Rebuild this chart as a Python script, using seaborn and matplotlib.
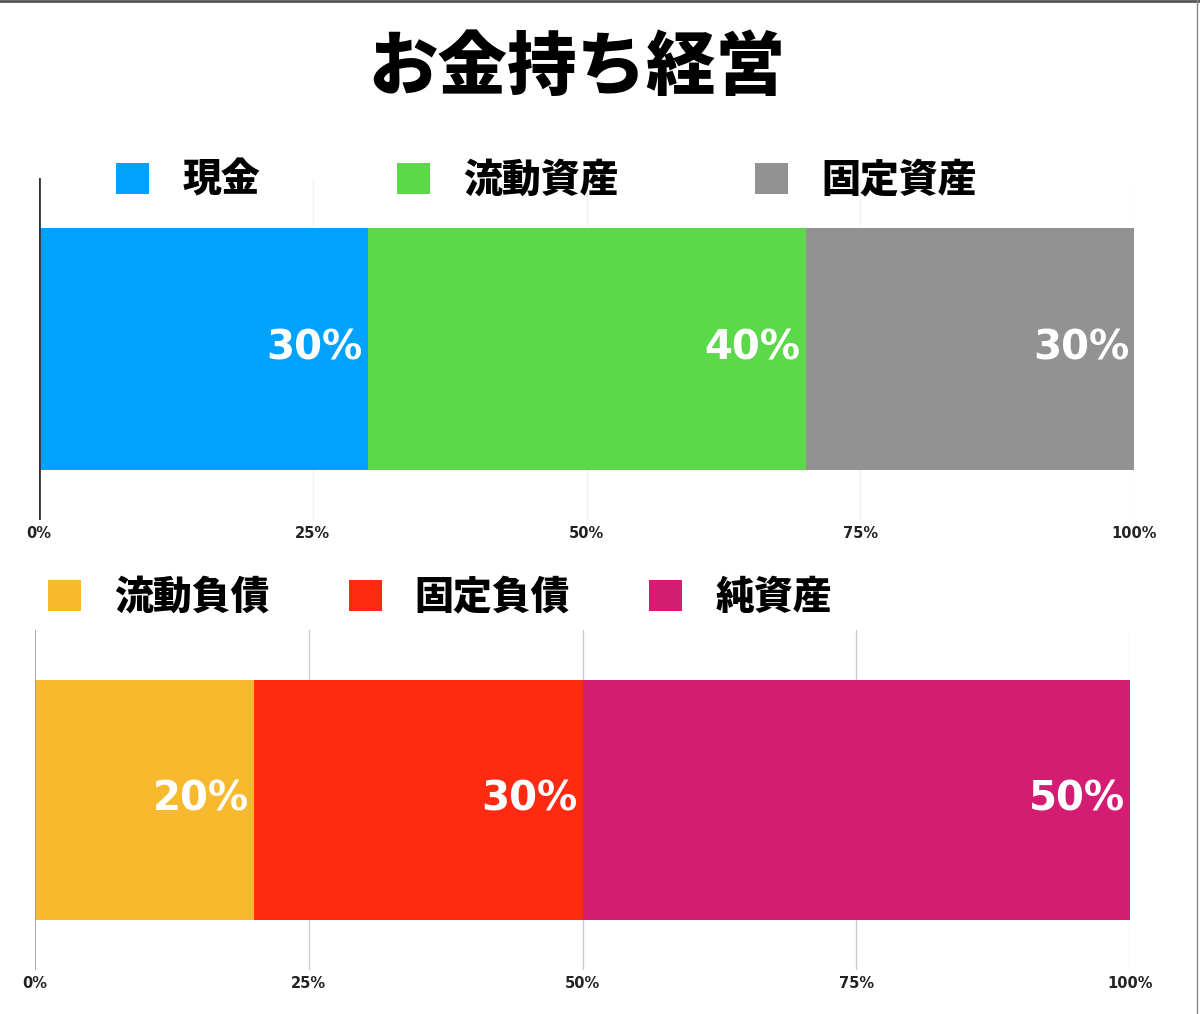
import numpy as np
import pandas as pd
import matplotlib
matplotlib.use("Agg")
import matplotlib.pyplot as plt
from matplotlib.patches import Patch
from matplotlib.lines import Line2D
import seaborn as sns

# data
title = "お金持ち経営"
asset_labels = ["現金", "流動資産", "固定資産"]
asset_values = [30, 40, 30]
asset_colors = ["#00A2FF", "#5CD94B", "#929292"]

liab_labels = ["流動負債", "固定負債", "純資産"]
liab_values = [20, 30, 50]
liab_colors = ["#F9B92E", "#FF2A12", "#D41C73"]

tick_values = [0, 25, 50, 75, 100]
tick_labels = ["0%", "25%", "50%", "75%", "100%"]

sns.set_theme(style="white")
plt.rcParams["font.family"] = ["Noto Sans CJK JP", "DejaVu Sans"]

fig = plt.figure(figsize=(12, 10.14), dpi=100)
fig.patch.set_facecolor("white")


def stacked_bar(ax, labels, values, colors, grid_color, zero_color, zero_lw):
    cum = np.cumsum(values)
    df = pd.DataFrame({"label": labels, "cum": cum, "row": [""] * len(labels)})
    # draw longest first so shorter segments sit on top
    for i in reversed(range(len(labels))):
        sns.barplot(data=df.iloc[[i]], x="cum", y="row", color=colors[i],
                    orient="h", width=0.705, linewidth=0, saturation=1,
                    ax=ax, zorder=3)
    for i, c in enumerate(cum):
        ax.text(c - 0.45, 0, f"{values[i]}%", ha="right", va="center",
                color="white", fontsize=29, fontweight="bold",
                family="DejaVu Sans", zorder=5)
    ax.set_xlim(0, 100)
    ax.set_ylim(0.5, -0.5)
    ax.set_xticks(tick_values)
    ax.set_xticklabels(tick_labels, fontsize=10.5, fontweight="bold",
                       family="DejaVu Sans", color="#222222")
    ax.tick_params(axis="x", length=0, pad=4)
    ax.set_yticks([])
    ax.set_xlabel("")
    ax.set_ylabel("")
    for s in ax.spines.values():
        s.set_visible(False)
    for t in tick_values[1:]:
        ax.axvline(t, color=grid_color, lw=1, zorder=1)
    ax.axvline(0, color=zero_color, lw=zero_lw, zorder=4)


ax1 = fig.add_axes([0.0325, 0.4872, 0.9125, 0.3373])
stacked_bar(ax1, asset_labels, asset_values, asset_colors, "#f2f2f2", "#333333", 2)

ax2 = fig.add_axes([0.0292, 0.0434, 0.9125, 0.3353])
stacked_bar(ax2, liab_labels, liab_values, liab_colors, "#cccccc", "#999999", 1.2)

# legends
def add_legend(labels, colors, x, y, spacing):
    handles = [Patch(facecolor=c, edgecolor="none") for c in colors]
    leg = fig.legend(handles, labels, loc="center left", bbox_to_anchor=(x, y),
                     ncol=3, frameon=False, borderpad=0, borderaxespad=0,
                     handlelength=0.85, handleheight=0.85, handletextpad=0.85,
                     columnspacing=spacing,
                     prop={"family": "Noto Sans CJK JP", "weight": "black", "size": 28})
    for t in leg.get_texts():
        t.set_color("black")

add_legend(asset_labels, asset_colors, 0.0967, 0.8225, 3.52)
add_legend(liab_labels, liab_colors, 0.040, 0.4112, 2.03)

fig.text(0.481, 0.933, title, ha="center", va="center", fontsize=50,
         fontweight="black", color="black")

# thin frame on top and right edge
fig.add_artist(Line2D([0, 1], [0.999, 0.999], transform=fig.transFigure,
                      color="#555555", lw=2))
fig.add_artist(Line2D([0.9975, 0.9975], [0, 1], transform=fig.transFigure,
                      color="#888888", lw=1))

fig.savefig("out.png", dpi=100, facecolor="white")
